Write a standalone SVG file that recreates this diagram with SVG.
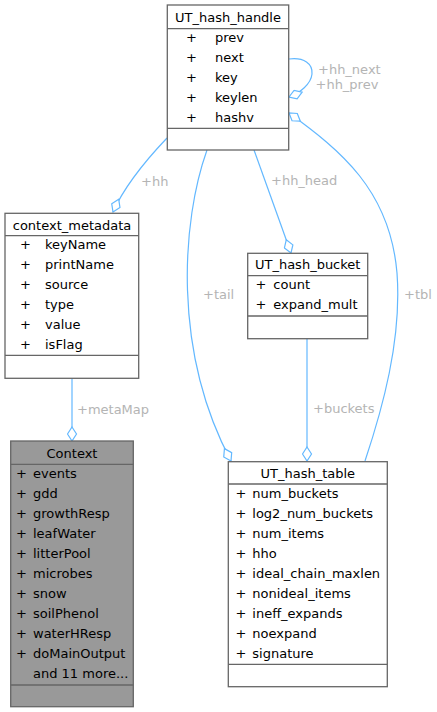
<svg xmlns="http://www.w3.org/2000/svg" width="437" height="712" viewBox="0 0 437 712">
<style>
text{font-family:"DejaVu Sans",sans-serif;font-size:13px;fill:#000}
.box{fill:#fff;stroke:#666;stroke-width:1.3}
.gray{fill:#999;stroke:#666;stroke-width:1.3}
.sep{stroke:#666;stroke-width:1.3}
.t{text-anchor:middle}
.edge{fill:none;stroke:#63b8ff;stroke-width:1.2;marker-end:url(#dia)}
.lbl{fill:#b4b4b4}
</style>
<defs>
<marker id="dia" viewBox="-1 -1 16 11" refX="14" refY="4.5" markerWidth="16" markerHeight="11" markerUnits="userSpaceOnUse" orient="auto">
<path d="M0,4.5 L7,0 L14,4.5 L7,9 Z" fill="#fff" stroke="#63b8ff" stroke-width="1.2"/>
</marker>
</defs>
<g id="connectors">
<path class="edge" d="M72,378 L72,441"/>
<path class="edge" d="M167,138 C148,158 125,185 113,212"/>
<path class="edge" d="M207,150 C182,220 172,350 231,461"/>
<path class="edge" d="M254,150 L291,253"/>
<path class="edge" d="M307,339 L307,461"/>
<path class="edge" d="M365,461 C382,410 402,340 397,273 C390,190 340,150 289,113"/>
<path class="edge" d="M289,59 C304,57 313,64 312,74 C311,84 300,93 289,97"/>
<text class="lbl" x="77" y="413.5">+metaMap</text>
<text class="lbl" x="141" y="185.5">+hh</text>
<text class="lbl" x="203" y="298.5">+tail</text>
<text class="lbl" x="271" y="184.5">+hh_head</text>
<text class="lbl" x="313" y="412.5">+buckets</text>
<text class="lbl" x="404" y="298.5">+tbl</text>
<text class="lbl" x="318" y="73.5">+hh_next</text>
<text class="lbl" x="315.5" y="88.5">+hh_prev</text>
</g>
<g id="UT_hash_handle">
<rect class="box" x="167.3" y="5" width="121.4" height="145"/>
<line class="sep" x1="167.3" y1="28.7" x2="288.7" y2="28.7"/>
<line class="sep" x1="167.3" y1="128.3" x2="288.7" y2="128.3"/>
<text class="t" x="228" y="21.5">UT_hash_handle</text>
<text x="186" y="42">+</text><text x="215" y="42">prev</text>
<text x="186" y="62">+</text><text x="215" y="62">next</text>
<text x="186" y="82">+</text><text x="215" y="82">key</text>
<text x="186" y="102">+</text><text x="215" y="102">keylen</text>
<text x="186" y="122">+</text><text x="215" y="122">hashv</text>
</g>
<g id="context_metadata">
<rect class="box" x="5" y="213.3" width="133.7" height="165"/>
<line class="sep" x1="5" y1="235.7" x2="138.7" y2="235.7"/>
<line class="sep" x1="5" y1="355.3" x2="138.7" y2="355.3"/>
<text class="t" x="72" y="229.5">context_metadata</text>
<text x="20" y="249">+</text><text x="45" y="249">keyName</text>
<text x="20" y="269">+</text><text x="45" y="269">printName</text>
<text x="20" y="289">+</text><text x="45" y="289">source</text>
<text x="20" y="309">+</text><text x="45" y="309">type</text>
<text x="20" y="329">+</text><text x="45" y="329">value</text>
<text x="20" y="349">+</text><text x="45" y="349">isFlag</text>
</g>
<g id="Context">
<rect class="gray" x="10.7" y="441" width="122.6" height="265.7"/>
<line class="sep" x1="10.7" y1="464.3" x2="133.3" y2="464.3"/>
<line class="sep" x1="10.7" y1="685" x2="133.3" y2="685"/>
<text class="t" x="72" y="458">Context</text>
<text x="16" y="478">+</text><text x="33" y="478">events</text>
<text x="16" y="498">+</text><text x="33" y="498">gdd</text>
<text x="16" y="518">+</text><text x="33" y="518">growthResp</text>
<text x="16" y="538">+</text><text x="33" y="538">leafWater</text>
<text x="16" y="558">+</text><text x="33" y="558">litterPool</text>
<text x="16" y="578">+</text><text x="33" y="578">microbes</text>
<text x="16" y="598">+</text><text x="33" y="598">snow</text>
<text x="16" y="618">+</text><text x="33" y="618">soilPhenol</text>
<text x="16" y="638">+</text><text x="33" y="638">waterHResp</text>
<text x="16" y="658">+</text><text x="33" y="658">doMainOutput</text>
<text x="33" y="678">and 11 more...</text>
</g>
<g id="UT_hash_bucket">
<rect class="box" x="247.7" y="253.3" width="120" height="85.4"/>
<line class="sep" x1="247.7" y1="275.7" x2="367.7" y2="275.7"/>
<line class="sep" x1="247.7" y1="316" x2="367.7" y2="316"/>
<text class="t" x="307.7" y="269">UT_hash_bucket</text>
<text x="255.5" y="289">+</text><text x="273.3" y="289">count</text>
<text x="255.5" y="309">+</text><text x="273.3" y="309">expand_mult</text>
</g>
<g id="UT_hash_table">
<rect class="box" x="228.3" y="461.7" width="159" height="225"/>
<line class="sep" x1="228.3" y1="484" x2="387.3" y2="484"/>
<line class="sep" x1="228.3" y1="664.3" x2="387.3" y2="664.3"/>
<text class="t" x="307.8" y="478">UT_hash_table</text>
<text x="235.5" y="498">+</text><text x="252.3" y="498">num_buckets</text>
<text x="235.5" y="518">+</text><text x="252.3" y="518">log2_num_buckets</text>
<text x="235.5" y="538">+</text><text x="252.3" y="538">num_items</text>
<text x="235.5" y="558">+</text><text x="252.3" y="558">hho</text>
<text x="235.5" y="578">+</text><text x="252.3" y="578">ideal_chain_maxlen</text>
<text x="235.5" y="598">+</text><text x="252.3" y="598">nonideal_items</text>
<text x="235.5" y="618">+</text><text x="252.3" y="618">ineff_expands</text>
<text x="235.5" y="638">+</text><text x="252.3" y="638">noexpand</text>
<text x="235.5" y="658">+</text><text x="252.3" y="658">signature</text>
</g>
</svg>
